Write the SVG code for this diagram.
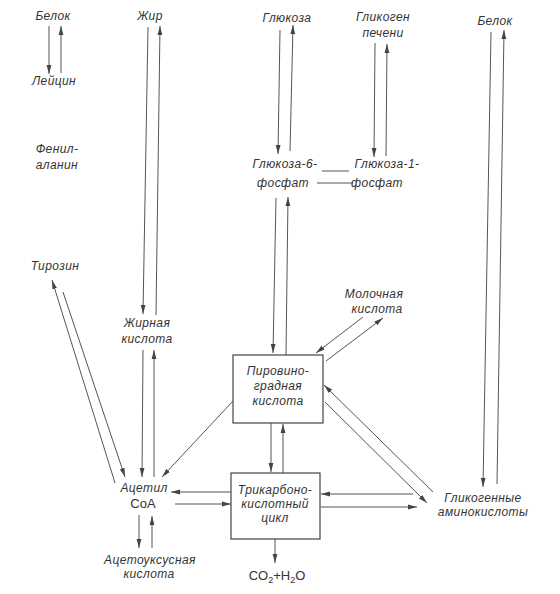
<svg xmlns="http://www.w3.org/2000/svg" width="560" height="594" viewBox="0 0 560 594">
<defs>
<marker id="ah" markerUnits="userSpaceOnUse" markerWidth="9" markerHeight="6" refX="9" refY="3" orient="auto">
<path d="M0,0.6 L9,3 L0,5.4 Z" fill="#444"/>
</marker>
<style>
text{font-family:"Liberation Sans","DejaVu Sans",sans-serif;font-style:italic;font-size:12px;fill:#333;text-anchor:middle;letter-spacing:0.4px}
.up{font-style:normal;font-size:13px;letter-spacing:0}
.box{fill:none;stroke:#444;stroke-width:1.2}
#connectors path{fill:none;stroke:#555;stroke-width:1}
#connectors .a{marker-end:url(#ah)}
</style>
</defs>
<rect width="560" height="594" fill="#fff"/>
<g id="connectors">
<path class="a" d="M49,26 L49,74"/>
<path class="a" d="M61,73 L61,26"/>
<path class="a" d="M148,27 L143,314"/>
<path class="a" d="M156,315 L160,26"/>
<path class="a" d="M280,30 L278,154"/>
<path class="a" d="M290,151 L293,25"/>
<path class="a" d="M375,43 L374,157"/>
<path class="a" d="M386,156 L387,44"/>
<path class="a" d="M491,32 L483,487"/>
<path class="a" d="M497,484 L504,30"/>
<path d="M322,171 L349,171"/>
<path d="M317,183 L353,183"/>
<path class="a" d="M276,198 L273,353"/>
<path class="a" d="M286,355 L288,197"/>
<path class="a" d="M363,317 L316,353"/>
<path class="a" d="M326,361 L383,318"/>
<path class="a" d="M233,401 L162,477"/>
<path class="a" d="M143,350 L142,477"/>
<path class="a" d="M154,477 L154,350"/>
<path class="a" d="M63,292 L125,477"/>
<path class="a" d="M115,483 L52,280"/>
<path class="a" d="M231,492 L171,492"/>
<path class="a" d="M175,504 L231,504"/>
<path class="a" d="M271,423 L271,472"/>
<path class="a" d="M283,473 L283,424"/>
<path class="a" d="M275,539 L275,563"/>
<path class="a" d="M413,494 L321,494"/>
<path class="a" d="M321,507 L417,507"/>
<path class="a" d="M433,492 L324,385"/>
<path class="a" d="M325,402 L427,503"/>
<path class="a" d="M139,515 L139,548"/>
<path class="a" d="M152,548 L152,516"/>
</g>
<g id="belok1"><text x="53" y="20">Белок</text></g>
<g id="leucine"><text x="54" y="85">Лейцин</text></g>
<g id="zhir"><text x="150" y="20">Жир</text></g>
<g id="glucose"><text x="287" y="22">Глюкоза</text></g>
<g id="glycogen"><text x="383" y="21">Гликоген</text><text x="383" y="37">печени</text></g>
<g id="belok2"><text x="495" y="25">Белок</text></g>
<g id="phenylalanine"><text x="57" y="153">Фенил-</text><text x="57" y="169">аланин</text></g>
<g id="g6p"><text x="285" y="168">Глюкоза-6-</text><text x="283" y="187">фосфат</text></g>
<g id="g1p"><text x="387" y="168">Глюкоза-1-</text><text x="377" y="187">фосфат</text></g>
<g id="tyrosine"><text x="55" y="270">Тирозин</text></g>
<g id="lactic"><text x="374" y="298">Молочная</text><text x="377" y="313">кислота</text></g>
<g id="fatty"><text x="147" y="327">Жирная</text><text x="147" y="343">кислота</text></g>
<g id="pyruvate"><rect class="box" x="233" y="355" width="90" height="68"/><text x="278" y="375">Пировино-</text><text x="278" y="390">градная</text><text x="278" y="405">кислота</text></g>
<g id="acetyl"><text x="144" y="492">Ацетил</text><text class="up" x="143" y="508">CoA</text></g>
<g id="tca"><rect class="box" x="231" y="473" width="89" height="66"/><text x="275" y="494">Трикарбоно-</text><text x="275" y="508">кислотный</text><text x="275" y="522">цикл</text></g>
<g id="aminoacids"><text x="483" y="502">Гликогенные</text><text x="483" y="516">аминокислоты</text></g>
<g id="acetoacetic"><text x="150" y="564">Ацетоуксусная</text><text x="149" y="578">кислота</text></g>
<g id="co2"><text class="up" x="277" y="580">CO<tspan font-size="9" dy="3">2</tspan><tspan dy="-3">+H</tspan><tspan font-size="9" dy="3">2</tspan><tspan dy="-3">O</tspan></text></g>
</svg>
